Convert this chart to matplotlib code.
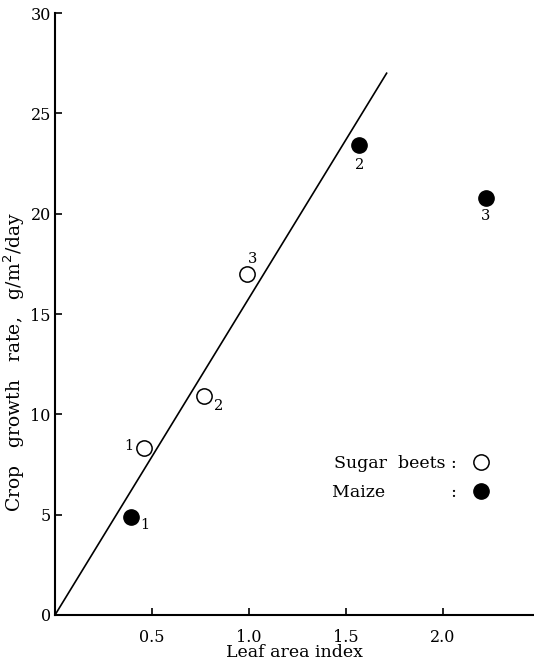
import matplotlib
matplotlib.use("Agg")
import matplotlib.pyplot as plt
from matplotlib.lines import Line2D

plt.rcParams['font.family'] = ['DejaVu Serif']

# leaf area index / crop growth rate
beet_lai = [0.46, 0.77, 0.99]
beet_cgr = [8.3, 10.9, 17.0]
beet_lab = ['1', '2', '3']
maize_lai = [0.39, 1.57, 2.22]
maize_cgr = [4.9, 23.4, 20.8]
maize_lab = ['1', '2', '3']
line_lai = [0.0, 1.71]
line_cgr = [0.0, 27.0]

xticks = [0.5, 1.0, 1.5, 2.0]
xticklabels = ['0.5', '1.0', '1.5', '2.0']
yticks = [0, 5, 10, 15, 20, 25, 30]

# label offsets in points (dx, dy)
beet_off = [(-11, 2), (10, -7), (4, 11)]
maize_off = [(10, -6), (0, -14), (0, -13)]

fig = plt.figure(figsize=(5.34, 6.61), dpi=100)
ax = fig.add_axes([0.103, 0.0696, 0.897, 0.9107])

ax.plot(line_lai, line_cgr, color='black', lw=1.2)
ax.plot(beet_lai, beet_cgr, ls='', marker='o', ms=11, mfc='white',
        mec='black', mew=1.1)
ax.plot(maize_lai, maize_cgr, ls='', marker='o', ms=11, mfc='black',
        mec='black')

for x, y, t, o in zip(beet_lai, beet_cgr, beet_lab, beet_off):
    ax.annotate(t, (x, y), xytext=o, textcoords='offset points',
                ha='center', va='center', fontsize=10.5)
for x, y, t, o in zip(maize_lai, maize_cgr, maize_lab, maize_off):
    ax.annotate(t, (x, y), xytext=o, textcoords='offset points',
                ha='center', va='center', fontsize=10.5)

ax.set_xlim(0, 2.47)
ax.set_ylim(0, 30)
ax.set_xticks(xticks)
ax.set_xticklabels(xticklabels)
ax.set_yticks(yticks)
ax.tick_params(direction='in', length=5, width=1.2, labelsize=11.5)
ax.tick_params(axis='y', pad=3)
ax.tick_params(axis='x', pad=10)
ax.spines['top'].set_visible(False)
ax.spines['right'].set_visible(False)
ax.spines['left'].set_linewidth(1.5)
ax.spines['bottom'].set_linewidth(1.5)

ax.set_xlabel('Leaf area index', fontsize=12.5, labelpad=-1)
ax.set_ylabel('Crop   growth   rate,   g/m$^2$/day', fontsize=13.5)
ax.yaxis.set_label_coords(-0.058, 0.42)

handles = [
    Line2D([], [], ls='', marker='o', ms=11, mfc='white', mec='black', mew=1.1),
    Line2D([], [], ls='', marker='o', ms=11, mfc='black', mec='black'),
]
ax.legend(handles, ['Sugar  beets :', 'Maize            :'],
          markerfirst=False, frameon=False, fontsize=12.5,
          loc='lower left', bbox_to_anchor=(0.578, 0.19),
          borderpad=0, borderaxespad=0,
          handletextpad=0.9, labelspacing=0.65, handlelength=1.0)

fig.savefig('out.png', dpi=100)
